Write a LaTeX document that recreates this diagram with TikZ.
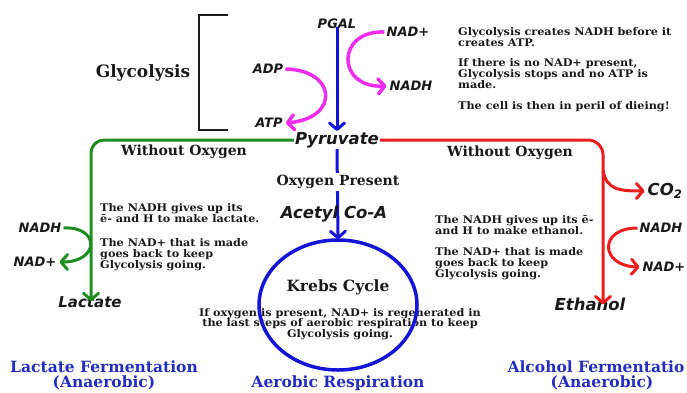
\documentclass[tikz,border=0pt]{standalone}
\usepackage{fontspec}
\setmainfont{DejaVu Serif}
\newfontfamily\labfont{DejaVu Sans}
\newfontfamily\notefont{DejaVu Serif}[FakeStretch=1.07]
\usetikzlibrary{arrows.meta,shapes.geometric,backgrounds}
\definecolor{mag}{RGB}{238,45,238}
\definecolor{dblue}{RGB}{20,20,215}
\definecolor{grn}{RGB}{30,140,30}
\definecolor{rd}{RGB}{235,30,30}
\definecolor{ttl}{RGB}{35,45,190}
\definecolor{ink}{RGB}{25,25,25}
\tikzset{
  lab/.style={font=\labfont\bfseries\itshape\fontsize{13}{15}\selectfont, text=ink, inner sep=1pt},
  biglab/.style={font=\labfont\bfseries\itshape\fontsize{16.5}{18}\selectfont, text=ink, inner sep=1pt},
  note/.style={font=\notefont\bfseries\fontsize{10.5}{11}\selectfont, text=ink, align=left, inner sep=0pt, anchor=north west},
  cnote/.style={font=\notefont\bfseries\fontsize{10.5}{10.5}\selectfont, text=ink, align=center, inner sep=0pt},
  head/.style={font=\bfseries\fontsize{14}{16}\selectfont, text=ink, inner sep=1pt},
  ttlstyle/.style={font=\bfseries\fontsize{15.5}{15}\selectfont, text=ttl, align=center, inner sep=0pt},
  barb/.style={-{Straight Barb[length=6.5pt,width=15pt,round]}},
  magarr/.style={draw=mag, line width=3.5pt, barb},
  bluearr/.style={draw=dblue, line width=3pt, barb},
  grnarr/.style={draw=grn, line width=3pt, barb},
  rdarr/.style={draw=rd, line width=3pt, barb}
}
\begin{document}
\begin{tikzpicture}[x=1pt,y=-1pt]
\useasboundingbox (0,0) rectangle (687,392);
% bracket
\node[head, font=\bfseries\fontsize{17}{18}\selectfont] (glyc) at (143,73) {Glycolysis};
\coordinate (brt) at (228,15);
\coordinate (brb) at (228,130);
\draw[line width=2.5pt, draw=ink] (brt) -- (199,15) -- (199,130) -- (brb);
% top labels
\node[lab] (pgal) at (337,24) {PGAL};
\node[biglab] (pyr) at (337,140) {Pyruvate};
\node[lab] (adp) at (268,69) {ADP};
\node[lab] (atp) at (269,123) {ATP};
\node[lab] (nadp1) at (408,32) {NAD+};
\node[lab] (nadh1) at (411,86) {NADH};
\draw[bluearr] ([yshift=3]pgal.south) -- (pyr.north);
\draw[magarr] ([xshift=1]adp.east) .. controls (337,70) and (340,118) .. ([xshift=2]atp.east);
\draw[magarr] ([xshift=-1]nadp1.west) .. controls (336,30) and (336,88) .. ([xshift=-2]nadh1.west);
% right notes
\node[note] (n1) at (458,27) {Glycolysis creates NADH before it\\creates ATP.};
\node[note] (n2) at (458,58) {If there is no NAD+ present,\\Glycolysis stops and no ATP is\\made.};
\node[note] (n3) at (458,101) {The cell is then in peril of dieing!};
% left branch
\node[biglab, font=\labfont\bfseries\itshape\fontsize{15}{18}\selectfont] (lact) at (90,302) {Lactate};
\node[head] (wo1) at (184,152) {Without Oxygen};
\draw[grnarr, rounded corners=13pt] (pyr.west) -| ([xshift=1,yshift=-6]lact.north);
\node[lab] (nadh2) at (40,228) {NADH};
\node[lab] (nadp2) at (35,262) {NAD+};
\draw[grnarr] ([xshift=1]nadh2.east) .. controls (100,226) and (100,262) .. ([xshift=2]nadp2.east);
\node[note] (n4) at (100,203) {The NADH gives up its\\ē- and H to make lactate.};
\node[note] (n5) at (100,238) {The NAD+ that is made\\goes back to keep\\Glycolysis going.};
% right branch
\node[biglab] (eth) at (590,304) {Ethanol};
\node[head] (wo2) at (510,153) {Without Oxygen};
\draw[rdarr, rounded corners=15pt] (pyr.east) -| ([xshift=13,yshift=-8]eth.north);
\node[biglab] (co2) at (665,191) {CO\textsubscript{2}};
\coordinate (cob) at (603,170);
\draw[rdarr] (cob) .. controls (606,190) and (620,191) .. ([xshift=-2]co2.west);
\node[lab] (nadh3) at (661,228) {NADH};
\node[lab] (nadp3) at (664,267) {NAD+};
\draw[rdarr] ([xshift=-1]nadh3.west) .. controls (598,228) and (600,266) .. ([xshift=-2]nadp3.west);
\node[note] (n6) at (435,215) {The NADH gives up its ē-\\and H to make ethanol.};
\node[note] (n7) at (435,247) {The NAD+ that is made\\goes back to keep\\Glycolysis going.};
% centre
\node[cnote] (cn) at (340,324) {If oxygen is present, NAD+ is regenerated in\\the last steps of aerobic respiration to keep\\Glycolysis going.};
\node[draw=dblue, line width=3.5pt, ellipse, minimum width=158pt, minimum height=130pt, inner sep=0pt] (krebs) at (338,305) {};
\node[head, font=\bfseries\fontsize{15.5}{16}\selectfont] (kc) at (338,287) {Krebs Cycle};
\node[head, fill=white, inner sep=2pt] (o2) at (338,182) {Oxygen Present};
\node[biglab] (acoa) at (334,214) {Acetyl Co-A};
\begin{pgfonlayer}{background}
\draw[bluearr] (pyr.south) -- ([yshift=-1]krebs.north);
\end{pgfonlayer}
% titles
\node[ttlstyle] (t1) at (104,375) {Lactate Fermentation\\(Anaerobic)};
\node[ttlstyle] (t2) at (338,383) {Aerobic Respiration};
\node[ttlstyle] (t3) at (596,375) {Alcohol Fermentatio\\\hspace*{12pt}(Anaerobic)};
\end{tikzpicture}
\end{document}
